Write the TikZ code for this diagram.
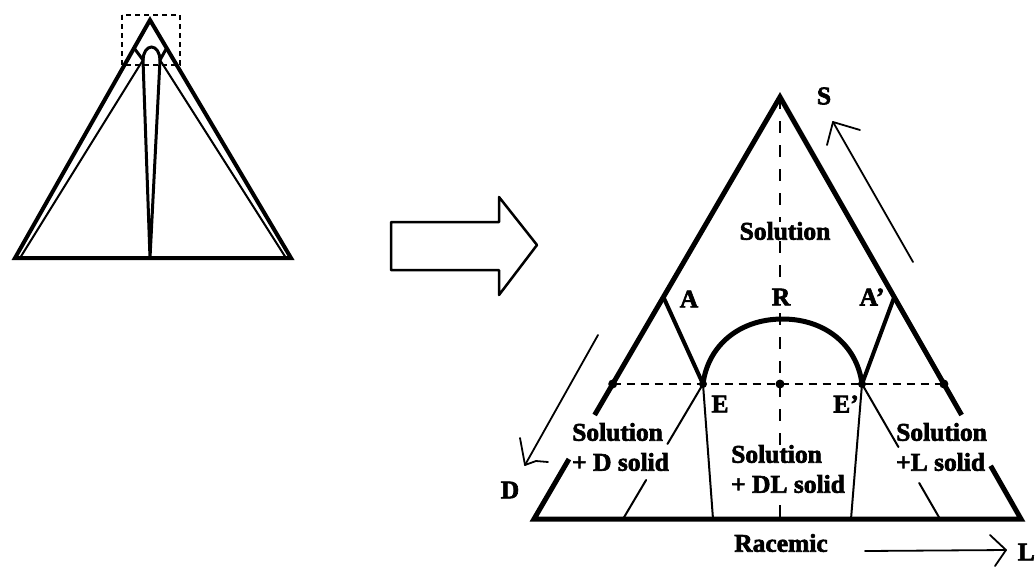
\documentclass[tikz,border=0pt]{standalone}
\usepackage{fontspec}
\setmainfont{Liberation Serif}[BoldFeatures={FakeBold=2.5}]
\usetikzlibrary{calc}
\begin{document}
\begin{tikzpicture}[x=1pt,y=-1pt,
  lbl/.style={font=\fontsize{25.5}{30}\selectfont\bfseries, inner sep=0pt},
  onl/.style={fill=white, inner sep=0pt},
  edgeline/.style={line width=5pt, line join=miter},
  arcline/.style={line width=5pt, line cap=round},
  tieline/.style={line width=4pt, line cap=round},
  thinline/.style={line width=2pt, line cap=round},
  vdash/.style={line width=2pt, dash pattern=on 12pt off 12pt},
  hdash/.style={line width=2pt, dash pattern=on 8pt off 6pt},
  handline/.style={line width=1.8pt, line cap=round, line join=round},
  dotst/.style={fill=black},
  smallline/.style={line width=4pt, line join=miter},
  smallinner/.style={line width=3pt, line cap=round},
  hollow/.style={line width=2.5pt, line join=round}
]
\useasboundingbox (0,0) rectangle (1035,566);

% ---------- small triangle ----------
\coordinate (sS) at (150,20);
\coordinate (sBL) at (15,258);
\coordinate (sBR) at (291,258);
\coordinate (sBm) at (150,258);
\coordinate (sA) at ($(sS)!0.118!(sBL)$);
\coordinate (sAp) at ($(sS)!0.118!(sBR)$);
\coordinate (sE) at (143,60);
\coordinate (sEp) at (160,60);
\coordinate (sTop) at (151.5,47);
\coordinate (sEL) at (20,258);
\coordinate (sER) at (286,258);
\draw[smallline] (sS) -- (sBL) -- (sBR) -- cycle;
\draw[smallinner] (sA) -- (sE) -- (sBm) -- (sEp) -- (sAp);
\draw[line width=2pt] (sE) -- (sEL);
\draw[line width=2pt] (sEp) -- (sER);
\draw[smallinner] (sE) .. controls (143,53) and (146.8,47) .. (sTop) .. controls (156.2,47) and (160,53) .. (sEp);
\coordinate (rNW) at (122,15);
\coordinate (rSE) at (180,65);
\draw[line width=2pt, dash pattern=on 5pt off 4pt] (rNW) rectangle (rSE);

% ---------- hollow arrow ----------
\coordinate (h1) at (391,222);
\coordinate (h2) at (499,222);
\coordinate (h3) at (499,197);
\coordinate (h4) at (537,245);
\coordinate (h5) at (499,295);
\coordinate (h6) at (499,270);
\coordinate (h7) at (391,270);
\draw[hollow] (h1) -- (h2) -- (h3) -- (h4) -- (h5) -- (h6) -- (h7) -- cycle;

% ---------- big triangle ----------
\coordinate (S) at (780,97);
\coordinate (BL) at (534,519);
\coordinate (BR) at (1021,519);
\coordinate (Bm) at (780,519);
\coordinate (A) at ($(S)!0.474!(BL)$);
\coordinate (Ap) at ($(S)!0.474!(BR)$);
\coordinate (Dl) at ($(S)!0.68!(BL)$);
\coordinate (Dr) at ($(S)!0.68!(BR)$);
\coordinate (E) at (703,384);
\coordinate (Ep) at (862,384);
\coordinate (C) at (780,384);
\coordinate (Rtop) at (782.5,319);
\coordinate (L1) at ($(S)!0.7535!(BL)$);
\coordinate (L2) at ($(S)!0.858!(BL)$);
\coordinate (R1) at ($(S)!0.7535!(BR)$);
\coordinate (R2) at ($(S)!0.874!(BR)$);
\coordinate (EB) at (713,519);
\coordinate (EpB) at (851,519);
\coordinate (EL) at (623,519);
\coordinate (ER) at (940,519);
\coordinate (EL1) at ($(E)!0.444!(EL)$);
\coordinate (EL2) at ($(E)!0.711!(EL)$);
\coordinate (ER1) at ($(Ep)!0.467!(ER)$);
\coordinate (ER2) at ($(Ep)!0.733!(ER)$);

\draw[vdash] (S) -- (Bm);
\draw[hdash] (Dl) -- (Dr);

\draw[edgeline] (L1) -- (S) -- (R1);
\draw[edgeline] (L2) -- (BL) -- (BR) -- (R2);

\draw[tieline] (A) -- (E);
\draw[tieline] (Ap) -- (Ep);
\draw[arcline] (E) .. controls (708,345) and (740,319) .. (Rtop) .. controls (825,319) and (857,345) .. (Ep);

\draw[thinline] (E) -- (EB);
\draw[thinline] (Ep) -- (EpB);
\draw[thinline] (E) -- (EL1);
\draw[thinline] (EL2) -- (EL);
\draw[thinline] (Ep) -- (ER1);
\draw[thinline] (ER2) -- (ER);

\fill[dotst] (Dl) circle (4.5);
\fill[dotst] (Dr) circle (4.5);
\fill[dotst] (C) circle (4.5);
\fill[dotst] (E) circle (4);
\fill[dotst] (Ep) circle (4);

% ---------- hand-drawn arrows ----------
\coordinate (ta0) at (913,262);
\coordinate (ta1) at (833,122);
\coordinate (ta2) at (827,145);
\coordinate (ta3) at (860,130);
\draw[handline] (ta0) -- (ta1);
\draw[handline] (ta2) -- (ta1) -- (ta3);

\coordinate (la0) at (598,335);
\coordinate (la1) at (525,465);
\coordinate (la2) at (520,438);
\coordinate (la3) at (536,461);
\coordinate (la4) at (548,462);
\draw[handline] (la0) -- (la1);
\draw[handline] (la2) -- (la1) -- (la3) -- (la4);

\coordinate (ba0) at (865,551);
\coordinate (ba1) at (1006,550);
\coordinate (ba2) at (990,535);
\coordinate (ba3) at (995,566);
\draw[handline] (ba0) -- (ba1);
\draw[handline] (ba2) -- (ba1) -- (ba3);

% ---------- labels ----------
\node[lbl] (lS) at (824,96) {S};
\node[lbl, onl] (lsol) at (785,231) {Solution};
\node[lbl] (lA) at (689,299) {A};
\node[lbl, onl] (lR) at (781,297) {R};
\node[lbl] (lAp) at (872,297) {A’};
\node[lbl] (lE) at (720,404) {E};
\node[lbl] (lEp) at (846,404) {E’};
\node[lbl, align=left, anchor=west] (lDs) at (572,447) {Solution\\+ D solid};
\node[lbl, onl, align=left, anchor=west] (lDLs) at (731,469) {Solution\\+ DL solid};
\node[lbl, align=left, anchor=west] (lLs) at (896,447) {Solution\\+L solid};
\node[lbl] (lD) at (510,490) {D};
\node[lbl] (lRac) at (781,543) {Racemic};
\node[lbl, anchor=east] (lL) at (1035,552) {L};
\end{tikzpicture}
\end{document}
